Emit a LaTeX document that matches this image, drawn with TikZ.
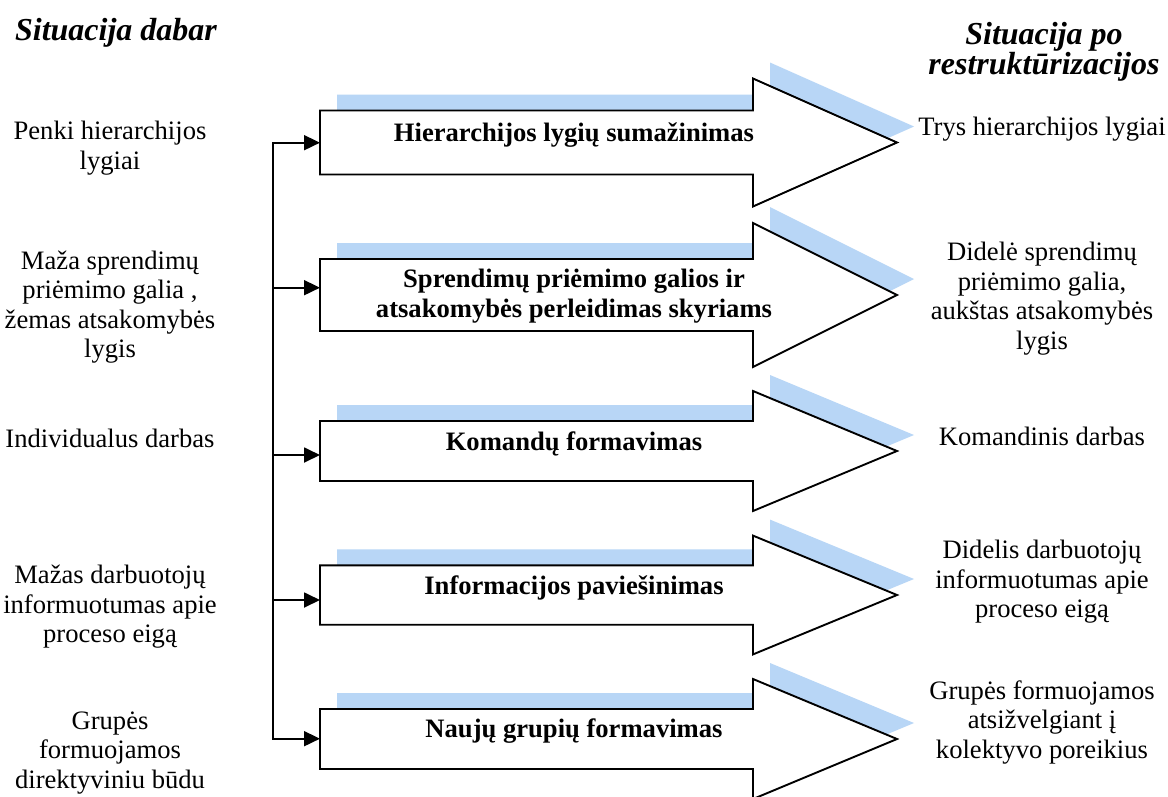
\documentclass[tikz,border=0pt]{standalone}
\usepackage{fontspec}
\setmainfont{Liberation Serif}
\usetikzlibrary{arrows.meta}
\definecolor{shadowblue}{RGB}{184,214,246}
\tikzset{
  body/.style={font=\fontsize{26.6}{29.5}\selectfont, align=center, inner sep=0pt},
  lab/.style={font=\fontsize{26.6}{30}\selectfont\bfseries, align=center, inner sep=0pt},
  ttl/.style={font=\fontsize{32}{30.5}\selectfont\bfseries\itshape, align=center, inner sep=0pt},
  bigarrow/.style={draw=black, fill=white, line width=1.9pt, line join=miter},
  shade/.style={fill=shadowblue, draw=none},
  trunk/.style={draw=black, line width=1.8pt, line cap=rect},
  conn/.style={draw=black, line width=1.8pt, -{Triangle[length=16pt,width=15pt]}},
}
\begin{document}
\begin{tikzpicture}[x=1pt, y={(0pt,-1pt)}]
\useasboundingbox (0,0) rectangle (1168,796);
\fill[white] (0,0) rectangle (1168,796);

% big arrows with shadow
\foreach \c/\h/\n/\cy in {142.5/32/1/142.7, 295/36/2/287.7, 451/30/3/455, 595/29.7/4/600, 739/30/5/738.7} {
  \fill[shade, shift={(17,-16)}] (320,{\c-\h}) -- (753,{\c-\h}) -- (753,{\c-2*\h}) -- (897,\c) -- (753,{\c+2*\h}) -- (753,{\c+\h}) -- (320,{\c+\h}) -- cycle;
  \draw[bigarrow] (320,{\c-\h}) -- (753,{\c-\h}) -- (753,{\c-2*\h}) -- (897,\c) -- (753,{\c+2*\h}) -- (753,{\c+\h}) -- (320,{\c+\h}) -- cycle;
  \coordinate (in\n) at (320,\cy);
  \coordinate (t\n) at (272.7,\cy);
}

% labels on arrows
\node[lab] (l1) at (574,135.5) {Hierarchijos lygių sumažinimas};
\node[lab] (l2) at (574,296) {Sprendimų priėmimo galios ir\\atsakomybės perleidimas skyriams};
\node[lab] (l3) at (574,444) {Komandų formavimas};
\node[lab] (l4) at (574,588) {Informacijos paviešinimas};
\node[lab] (l5) at (574,731) {Naujų grupių formavimas};

% connectors
\draw[trunk] (t1) -- (t5);
\foreach \n in {1,...,5} { \draw[conn] (t\n) -- (in\n); }

% titles
\node[ttl] (tl) at (116,33) {Situacija dabar};
\node[ttl] (tr) at (1044,52) {Situacija po\\restruktūrizacijos};

% left column
\node[body] (a1) at (110,148) {Penki hierarchijos\\lygiai};
\node[body] (a2) at (110,307) {Maža sprendimų\\priėmimo galia ,\\žemas atsakomybės\\lygis};
\node[body] (a3) at (110,438) {Individualus darbas};
\node[body] (a4) at (110,607) {Mažas darbuotojų\\informuotumas apie\\proceso eigą};
\node[body] (a5) at (110,753) {Grupės\\formuojamos\\direktyviniu būdu};

% right column
\node[body] (b1) at (1042,129) {Trys hierarchijos lygiai};
\node[body] (b2) at (1042,298.5) {Didelė sprendimų\\priėmimo galia,\\aukštas atsakomybės\\lygis};
\node[body] (b3) at (1042,436) {Komandinis darbas};
\node[body] (b4) at (1042,582) {Didelis darbuotojų\\informuotumas apie\\proceso eigą};
\node[body] (b5) at (1042,722) {Grupės formuojamos\\atsižvelgiant į\\kolektyvo poreikius};
\end{tikzpicture}
\end{document}
